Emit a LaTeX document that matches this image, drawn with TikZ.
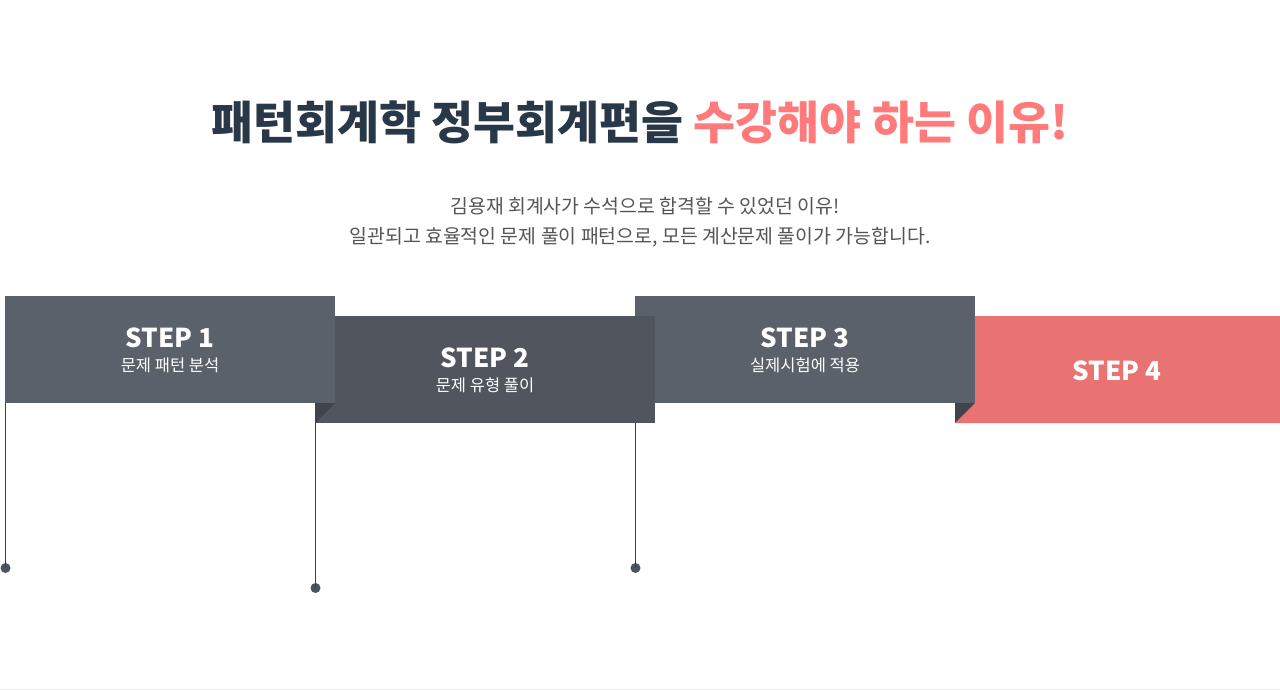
\documentclass[tikz,border=0pt]{standalone}
\usepackage{fontspec}
\setmainfont{Noto Sans CJK KR}
\newfontfamily\kr{Noto Sans CJK KR}
\definecolor{cone}{HTML}{5B616A}
\definecolor{ctwo}{HTML}{50555E}
\definecolor{cfold}{HTML}{40454D}
\definecolor{cpink}{HTML}{E87372}
\definecolor{ctitle}{HTML}{283848}
\definecolor{ctpink}{HTML}{FF7B7B}
\definecolor{csub}{HTML}{555555}
\definecolor{cline}{HTML}{3A3F47}
\definecolor{cdot}{HTML}{4E545D}
\tikzset{
  steptitle/.style={text=white,font=\kr\bfseries\fontsize{26}{26}\selectfont,inner sep=0pt,anchor=center},
  stepsub/.style={text=white,font=\kr\fontsize{16.5}{16.5}\selectfont,inner sep=0pt,anchor=center},
  pin/.style={draw=cline,line width=1pt},
  pindot/.style={circle,fill=cdot,inner sep=0pt,minimum size=10pt},
}
\begin{document}
\begin{tikzpicture}[x=1pt,y=-1pt]
\useasboundingbox (0,0) rectangle (1280,690);
\fill[white] (0,0) rectangle (1280,690);
\draw[draw=black!7,line width=1pt] (0,689.5) -- (1280,689.5);
% title
\node[inner sep=0pt,font=\kr\bfseries\fontsize{45.6}{45.6}\selectfont] (title) at (640,122)
  {\textcolor{ctitle}{패턴회계학 정부회계편을} \textcolor{ctpink}{수강해야 하는 이유!}};
\node[inner sep=0pt,text=csub,font=\kr\fontsize{19.4}{19.4}\selectfont] (sub1) at (645,206) {김용재 회계사가 수석으로 합격할 수 있었던 이유!};
\node[inner sep=0pt,text=csub,font=\kr\fontsize{19.4}{19.4}\selectfont] (sub2) at (640,237) {일관되고 효율적인 문제 풀이 패턴으로, 모든 계산문제 풀이가 가능합니다.};
% step 4
\fill[cpink] (975,316) -- (1280,316) -- (1280,423) -- (955,423) -- (975,403) -- cycle;
\fill[cfold] (955,403) -- (975,403) -- (955,423) -- cycle;
% step 3
\fill[cone] (635,296) rectangle (975,403);
% step 2
\fill[ctwo] (315,316) rectangle (655,423);
\fill[cfold] (315,403) -- (335,403) -- (315,423) -- cycle;
% step 1
\fill[cone] (5,296) rectangle (335,403);
% labels
\node[steptitle] (s1) at (170,338) {STEP 1};
\node[stepsub] (s1b) at (170,365) {문제 패턴 분석};
\node[steptitle] (s2) at (485,358) {STEP 2};
\node[stepsub] (s2b) at (485,385) {문제 유형 풀이};
\node[steptitle] (s3) at (805,338) {STEP 3};
\node[stepsub] (s3b) at (805,365) {실제시험에 적용};
\node[steptitle] (s4) at (1117,371) {STEP 4};
% pins
\coordinate (p1) at (5.5,403);
\coordinate (p2) at (315.5,423);
\coordinate (p3) at (635.5,423);
\node[pindot] (d1) at (5.5,568) {};
\node[pindot] (d2) at (315.5,588) {};
\node[pindot] (d3) at (635.5,568) {};
\draw[pin] (p1) -- (d1.center);
\draw[pin] (p2) -- (d2.center);
\draw[pin] (p3) -- (d3.center);
\end{tikzpicture}
\end{document}
